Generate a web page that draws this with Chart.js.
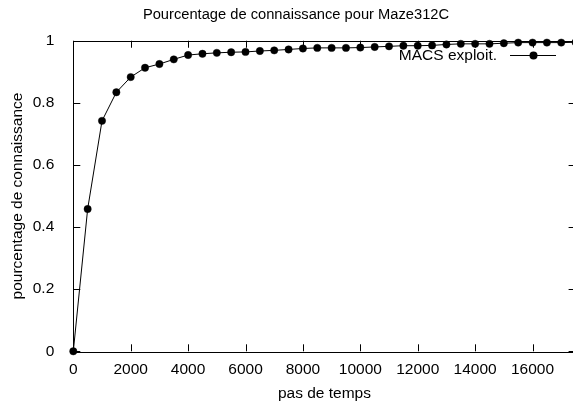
<!DOCTYPE html>
<html>
<head>
<meta charset="utf-8">
<title>Pourcentage de connaissance pour Maze312C</title>
<script src="https://cdn.jsdelivr.net/npm/chart.js@4/dist/chart.umd.min.js"></script>
<style>
  html, body { margin: 0; padding: 0; background: #fff; overflow: hidden; }
  #wrap { width: 573px; height: 403px; overflow: hidden; position: relative; }
  #c { position: absolute; left: 0; top: 0; }
</style>
</head>
<body>
<div id="wrap"><canvas id="c" width="592" height="403"></canvas></div>
<script>
// Time steps (x) and share of the maze known by the agent (y)
const timeSteps = [0, 500, 1000, 1500, 2000, 2500, 3000, 3500, 4000, 4500, 5000, 5500,
  6000, 6500, 7000, 7500, 8000, 8500, 9000, 9500, 10000, 10500, 11000, 11500, 12000,
  12500, 13000, 13500, 14000, 14500, 15000, 15500, 16000, 16500, 17000, 17500];
const knowledge = [0, 0.458, 0.742, 0.834, 0.883, 0.913, 0.925, 0.940, 0.954, 0.958, 0.961, 0.963,
  0.964, 0.967, 0.969, 0.972, 0.975, 0.977, 0.977, 0.977, 0.978, 0.980, 0.982, 0.984, 0.984,
  0.985, 0.988, 0.990, 0.990, 0.990, 0.992, 0.994, 0.994, 0.994, 0.994, 0.995];
const xTicks = [0, 2000, 4000, 6000, 8000, 10000, 12000, 14000, 16000];
const yTicks = [0, 0.2, 0.4, 0.6, 0.8, 1];
const seriesLabel = 'MACS exploit.';
const chartTitle = 'Pourcentage de connaissance pour Maze312C';
const xTitle = 'pas de temps';
const yTitle = 'pourcentage de connaissance';

const FONT = '"Liberation Sans", Arial, Helvetica, sans-serif';
const TICK_LEN = 7;

// Frame, inward tick marks on all four sides, and the key in the top-right corner
const framePlugin = {
  id: 'frame',
  afterDatasetsDraw(chart) {
    const { ctx, chartArea: a, scales } = chart;
    ctx.save();
    ctx.strokeStyle = '#000';
    ctx.lineWidth = 1;
    ctx.beginPath();
    ctx.rect(Math.round(a.left) + 0.5, Math.round(a.top) + 0.5,
             Math.round(a.right - a.left), Math.round(a.bottom - a.top));
    ctx.stroke();
    ctx.beginPath();
    scales.x.ticks.forEach(t => {
      const px = Math.round(scales.x.getPixelForValue(t.value)) + 0.5;
      ctx.moveTo(px, a.bottom); ctx.lineTo(px, a.bottom - TICK_LEN);
      ctx.moveTo(px, a.top); ctx.lineTo(px, a.top + TICK_LEN);
    });
    scales.y.ticks.forEach(t => {
      const py = Math.round(scales.y.getPixelForValue(t.value)) + 0.5;
      ctx.moveTo(a.left, py); ctx.lineTo(a.left + TICK_LEN, py);
      ctx.moveTo(a.right, py); ctx.lineTo(a.right - TICK_LEN, py);
    });
    ctx.stroke();

    // key: label, then a line sample with a marker
    const ds = chart.data.datasets[0];
    const ky = 55.5;
    ctx.font = '15.5px ' + FONT;
    ctx.fillStyle = '#000';
    ctx.textAlign = 'right';
    ctx.textBaseline = 'middle';
    ctx.fillText(ds.label, 497, ky);
    ctx.strokeStyle = ds.borderColor;
    ctx.lineWidth = ds.borderWidth;
    ctx.beginPath();
    ctx.moveTo(510, ky); ctx.lineTo(556, ky);
    ctx.stroke();
    ctx.fillStyle = ds.pointBackgroundColor;
    ctx.beginPath();
    ctx.arc(533.5, ky, ds.pointRadius + 0.3, 0, Math.PI * 2);
    ctx.fill();
    ctx.restore();
  }
};

new Chart(document.getElementById('c'), {
  type: 'line',
  data: {
    datasets: [{
      label: seriesLabel,
      data: timeSteps.map((t, i) => ({ x: t, y: knowledge[i] })),
      borderColor: '#000',
      borderWidth: 1,
      pointRadius: 3.7,
      pointBorderWidth: 0.4,
      pointBackgroundColor: '#000',
      pointBorderColor: '#000',
      tension: 0,
      fill: false,
      clip: false
    }]
  },
  options: {
    responsive: false,
    animation: false,
    layout: { padding: 0 },
    plugins: {
      legend: { display: false },
      tooltip: { enabled: false },
      title: {
        display: true,
        text: chartTitle,
        color: '#000',
        font: { family: FONT, size: 14.7, weight: 'normal', lineHeight: 1.2 },
        padding: { top: 6, bottom: 17.1 }
      }
    },
    scales: {
      x: {
        type: 'linear',
        min: 0,
        max: 17500,
        afterBuildTicks: s => { s.ticks = xTicks.map(v => ({ value: v })); },
        afterFit: s => { s.height = 51.7; },
        grid: { display: false },
        border: { display: false },
        ticks: {
          color: '#000',
          font: { family: FONT, size: 15.5 },
          padding: 1,
          maxRotation: 0,
          autoSkip: false,
          callback: v => String(v)
        },
        title: {
          display: true,
          text: xTitle,
          color: '#000',
          font: { family: FONT, size: 15.5 },
          padding: { top: 0, bottom: 0 }
        }
      },
      y: {
        type: 'linear',
        min: 0,
        max: 1,
        afterBuildTicks: s => { s.ticks = yTicks.map(v => ({ value: v })); },
        afterFit: s => { s.width = 73.3; },
        grid: { display: false },
        border: { display: false },
        ticks: {
          color: '#000',
          font: { family: FONT, size: 15.5 },
          padding: 11,
          callback: v => String(v)
        },
        title: {
          display: true,
          text: yTitle,
          color: '#000',
          font: { family: FONT, size: 15.5 },
          padding: { top: 8, bottom: 0 }
        }
      },
      // empty strip on the right so the plot ends at the same place as the title's centre line
      yRight: {
        type: 'linear',
        position: 'right',
        display: true,
        afterFit: s => { s.width = 16.4; },
        grid: { display: false },
        border: { display: false },
        ticks: { display: false },
        title: { display: false }
      }
    }
  },
  plugins: [framePlugin]
});
</script>
</body>
</html>
